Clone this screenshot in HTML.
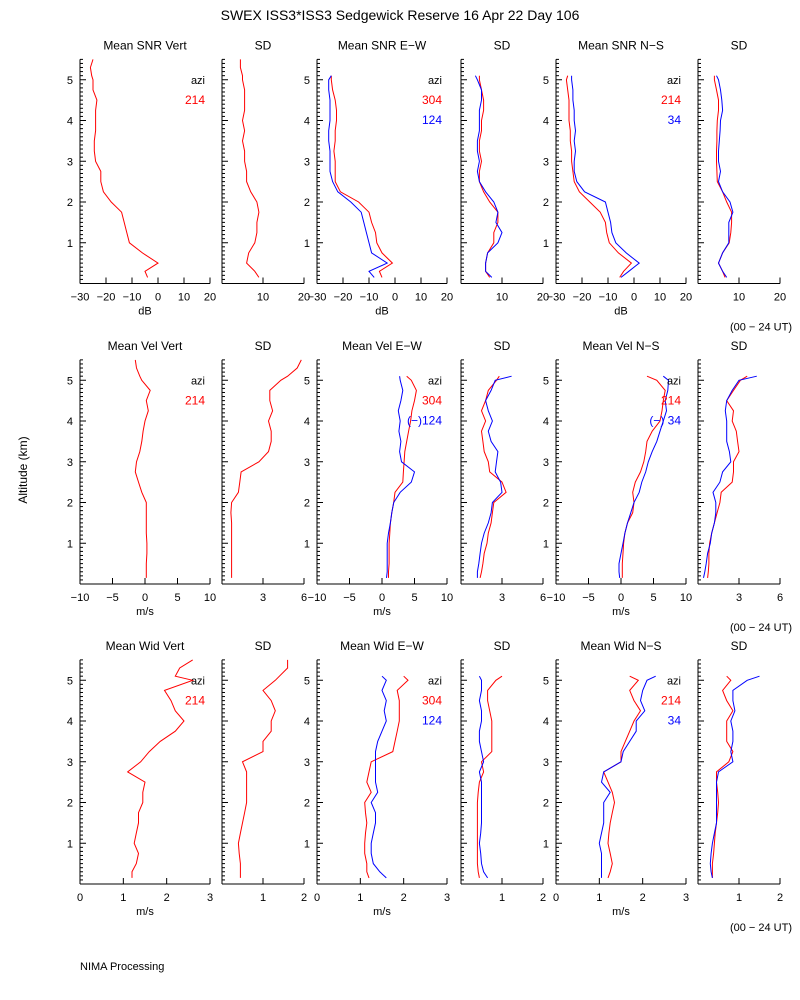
<!DOCTYPE html>
<html><head><meta charset="utf-8"><style>
body{margin:0;background:#fff;}
svg{display:block;font-family:"Liberation Sans","DejaVu Sans",sans-serif;}
</style></head><body>
<svg id="c" width="800" height="1000" viewBox="0 0 800 1000">
<rect width="800" height="1000" fill="#fff"/>
<text x="400" y="20" text-anchor="middle" font-size="14">SWEX ISS3*ISS3 Sedgewick Reserve  16 Apr 22 Day 106</text>
<text transform="translate(27,470) rotate(-90)" text-anchor="middle" font-size="12">Altitude (km)</text>
<text x="80" y="970" font-size="11">NIMA Processing</text>
</svg>
<script>
const alt=[0.15,0.3,0.5,0.75,1,1.25,1.5,1.75,2,2.25,2.5,2.75,3,3.25,3.5,3.75,4,4.25,4.5,4.75,5,5.1,5.3,5.5];
// Row 1 SNR
const snrVert=[-4,-5,0,-6,-11,-12,-13,-14,-18,-21,-22,-22,-24,-24.5,-24.5,-24,-24,-24,-23.5,-25,-25,-25.5,-26,-25];
const snrVertSd=[9,8,6,6.5,8,8.5,8.5,9,8.5,7,6,6,5.5,5.5,5,5.5,5,5.5,5.5,5.5,5,5,4.5,4.5];
const snrEw304=[-5,-6,-1,-5,-7,-7.5,-9,-10,-14,-21,-23,-23,-23,-23.5,-23,-23,-22.5,-22.5,-23,-24,-24.5,-24.5,null,null];
const snrEw124=[-8,-10,-3,-9,-10,-11,-12,-13,-17,-22,-24,-25,-25,-25,-25.5,-25.5,-25,-25,-25,-25.5,-25.5,-24.5,null,null];
const snrEwSd304=[7,6,6,6.5,8,8,9,9,7,5.5,4.5,4.5,5,4.5,4.5,5,5,5.5,5.5,5,4.5,4.5,null,null];
const snrEwSd124=[7.5,6,6,6.5,9,10,8.5,9,8,6,4.5,4,4.5,4,4,4.5,4.5,4.5,5,5,4,3.5,null,null];
const snrNs214=[-5.5,-4,-1,-6,-9.5,-10.5,-11,-13,-17,-21,-23,-23.5,-24,-24,-24.5,-24.5,-25,-25,-25,-25.5,-26,-25.5,null,null];
const snrNs34=[-5,-2,2,-3,-7,-8.5,-9,-10,-11,-19,-22,-23,-23,-22.5,-23,-22.5,-23,-23,-23.5,-23.5,-24,-24,null,null];
const snrNsSd214=[6.6,6,5,6,7.6,8,8.2,8.2,7,6,4.7,4.6,4.5,4.5,4.6,4.6,4.7,5,5,4.5,4,4,null,null];
const snrNsSd34=[7,6,5,6,7.5,7.5,7.5,8.5,7.8,6,5,5.5,5,5,5.2,5.4,5.5,6,5.8,5.5,5,4.5,null,null];
// Row 2 Velocity
const velVert=[0.2,0.2,0.2,0.3,0.3,0.2,0.2,0.2,0.2,-0.5,-1,-1.5,-1.3,-0.8,-0.5,-0.3,0,0.5,0.2,0.8,-0.5,-0.8,-1.3,-1.5];
const velVertSd=[0.7,0.7,0.7,0.7,0.7,0.7,0.7,0.65,0.7,1.2,1.3,1.4,2.7,3.4,3.6,3.6,3.4,3.7,3.5,3.5,4.3,4.8,5.5,5.8];
const velEw304=[1,1,1.1,1.1,1.1,1.2,1.3,1.5,1.8,2,3.2,3.3,3.4,3.5,3.8,4.1,4.4,4.6,5,5.3,4.5,3.8,null,null];
const velEw124=[0.7,0.8,0.8,0.8,0.8,1,1.3,1.5,1.8,2.8,4.5,5,3,2.7,2.9,2.6,2.8,2.5,2.9,3.2,2.8,2.7,null,null];
const velEwSd304=[1.4,1.5,1.6,1.7,1.9,2,2.2,2.3,2.4,3.3,3,2.1,2,1.7,1.6,1.5,1.8,1.5,1.8,2,2.6,2.8,null,null];
const velEwSd124=[1.2,1.2,1.3,1.4,1.5,1.7,2,2.2,2.3,3,2.9,2.5,2.6,2.7,2.2,2,2.3,2,1.8,2.2,2.5,3.7,null,null];
const velNs214=[0.2,0.2,0.2,0.3,0.4,0.6,1,1.8,2,1.8,2.2,3,3.5,3.8,4,4.8,6,6.3,6.5,6.8,5.5,4,null,null];
const velNs34=[-0.2,-0.3,-0.3,0,0.3,0.6,1,1.5,2,2.8,3.2,3.8,4.2,4.8,5.5,6,6.5,7,6.8,7.2,7.3,6.5,null,null];
const velNsSd214=[0.7,0.75,0.8,0.8,0.85,1,1.2,1.4,1.6,1.7,2.5,2.6,2.6,3,2.9,2.8,2.5,2.6,2.1,2.6,3.1,3.6,null,null];
const velNsSd34=[0.4,0.5,0.6,0.7,0.9,1,1.2,1.3,1.3,1.1,1.6,1.8,2.4,2.3,2.1,2.1,2.1,2,2.1,2.5,3,4.3,null,null];
// Row 3 Width
const widVert=[1.2,1.2,1.3,1.35,1.25,1.3,1.35,1.35,1.45,1.45,1.5,1.1,1.4,1.6,1.85,2.2,2.4,2.2,2.1,1.95,2.6,2.2,2.3,2.6];
const widVertSd=[0.45,0.45,0.45,0.42,0.4,0.45,0.5,0.55,0.6,0.6,0.6,0.6,0.5,1.0,1.0,1.2,1.2,1.3,1.2,1.0,1.3,1.4,1.6,1.6];
const widEw304=[1.2,1.15,1.15,1.1,1.1,1.12,1.15,1.12,1.1,1.25,1.15,1.2,1.25,1.75,1.8,1.85,1.9,1.9,1.9,1.85,2.1,2,null,null];
const widEw124=[1.6,1.45,1.3,1.25,1.25,1.3,1.35,1.35,1.25,1.4,1.35,1.35,1.35,1.35,1.4,1.5,1.6,1.55,1.6,1.5,1.6,1.5,null,null];
const widEwSd304=[0.45,0.42,0.4,0.4,0.4,0.4,0.4,0.4,0.4,0.42,0.45,0.55,0.5,0.75,0.75,0.75,0.75,0.7,0.65,0.65,0.85,1,null,null];
const widEwSd124=[0.65,0.55,0.5,0.48,0.45,0.48,0.5,0.5,0.5,0.5,0.5,0.45,0.55,0.5,0.45,0.45,0.5,0.5,0.45,0.5,0.5,0.45,null,null];
const widNs214=[1.2,1.25,1.3,1.25,1.2,1.22,1.25,1.3,1.35,1.3,1.2,1.1,1.5,1.5,1.6,1.7,1.8,1.95,1.8,1.7,1.9,1.7,null,null];
const widNs34=[1.05,1.05,1.05,1.05,1,1.05,1.1,1.1,1.1,1.25,1.05,1.1,1.5,1.55,1.7,1.85,1.85,2.05,1.95,2,2.1,2.3,null,null];
const widNsSd214=[0.35,0.35,0.35,0.38,0.4,0.42,0.45,0.48,0.5,0.48,0.45,0.45,0.75,0.85,0.7,0.7,0.7,0.85,0.7,0.6,0.8,0.7,null,null];
const widNsSd34=[0.35,0.32,0.3,0.32,0.35,0.4,0.45,0.45,0.45,0.45,0.45,0.5,0.85,0.8,0.85,0.85,0.8,0.9,0.85,0.85,1.2,1.5,null,null];

const snrTicks=[-30,-20,-10,0,10,20], velTicks=[-10,-5,0,5,10], widTicks=[0,1,2,3];
const snrSdTicks=[10,20], velSdTicks=[3,6], widSdTicks=[1,2];

const svg=document.getElementById('c');
const NS='http://www.w3.org/2000/svg';
function mk(tag,attrs,parent){const e=document.createElementNS(NS,tag);for(const k in attrs)e.setAttribute(k,attrs[k]);(parent||svg).appendChild(e);return e;}

const rows=[
 {base:283.5,pre:'SNR',unit:'dB',mr:[-30,20],mt:snrTicks,sr:[0,20],st:snrSdTicks,
  data:[[snrVert],[snrVertSd],[snrEw304,snrEw124],[snrEwSd304,snrEwSd124],[snrNs214,snrNs34],[snrNsSd214,snrNsSd34]],
  leg:[['214'],['304','124'],['214','34']]},
 {base:584,pre:'Vel',unit:'m/s',mr:[-10,10],mt:velTicks,sr:[0,6],st:velSdTicks,
  data:[[velVert],[velVertSd],[velEw304,velEw124],[velEwSd304,velEwSd124],[velNs214,velNs34],[velNsSd214,velNsSd34]],
  leg:[['214'],['304','(\u2212)124'],['214','(\u2212) 34']]},
 {base:884,pre:'Wid',unit:'m/s',mr:[0,3],mt:widTicks,sr:[0,2],st:widSdTicks,
  data:[[widVert],[widVertSd],[widEw304,widEw124],[widEwSd304,widEwSd124],[widNs214,widNs34],[widNsSd214,widNsSd34]],
  leg:[['214'],['304','124'],['214','34']]}
];
const cols=[[80,210],[222,304],[317,447],[461,543],[556,686],[698,780]];
const dirs=['Vert','E\u2212W','N\u2212S'];
const kpx=40.75;
const colors=['#f00','#00f'];

rows.forEach((r,ri)=>{
  const yOf=a=>r.base-a*kpx;
  cols.forEach((c,ci)=>{
    const isSd=ci%2===1, dir=Math.floor(ci/2);
    const g=mk('g',{});
    
    
    const range=isSd?r.sr:r.mr, ticks=isSd?r.st:r.mt;
    const xOf=v=>c[0]+(v-range[0])/(range[1]-range[0])*(c[1]-c[0]);
    const ttl=mk('text',{x:(c[0]+c[1])/2,y:r.base-234,'text-anchor':'middle','font-size':12},g);
    ttl.textContent=isSd?'SD':'Mean '+r.pre+' '+dirs[dir];
    
    
    const yTop=yOf(5.5);
    mk('line',{x1:c[0],y1:r.base,x2:c[0],y2:yTop,stroke:'#000','stroke-width':1},g);
    mk('line',{x1:c[0],y1:r.base,x2:c[1],y2:r.base,stroke:'#000','stroke-width':1},g);
    for(let i=1;i<=55;i++){const y=yOf(i/10);const L=i%10===0?6:3;mk('line',{x1:c[0],y1:y,x2:c[0]+L,y2:y,stroke:'#000','stroke-width':1},g);}
    if(!isSd){
      for(let k=1;k<=5;k++){const t=mk('text',{x:c[0]-7,y:yOf(k)+4,'text-anchor':'end','font-size':11},g);t.textContent=k;
        }
    }
    ticks.forEach(v=>{const x=xOf(v);mk('line',{x1:x,y1:r.base,x2:x,y2:r.base-6,stroke:'#000','stroke-width':1},g);
      const t=mk('text',{x:x,y:r.base+17,'text-anchor':'middle','font-size':11},g);t.textContent=(v<0?'\u2212'+(-v):v);
      });
    if(!isSd){const u=mk('text',{x:(c[0]+c[1])/2,y:r.base+31,'text-anchor':'middle','font-size':11},g);u.textContent=r.unit;
      }
    r.data[ci].forEach((ser,si)=>{
      let d='';let started=false;
      ser.forEach((v,i)=>{if(v===null)return;d+=(started?'L':'M')+xOf(v).toFixed(1)+' '+yOf(alt[i]).toFixed(1);started=true;});
      const p=mk('path',{d:d,fill:'none',stroke:colors[si],'stroke-width':1},g);
      
      
    });
    if(!isSd){
      const lx=c[1]-5;
      const a=mk('text',{x:lx,y:yOf(5)+4,'text-anchor':'end','font-size':11},g);a.textContent='azi';
      
      r.leg[dir].forEach((s,si)=>{const t=mk('text',{x:lx,y:yOf(5)+24+si*20,'text-anchor':'end','font-size':12,fill:colors[si]},g);t.textContent=s;
        });
    }
  });
  const ut=mk('text',{x:792,y:r.base+47,'text-anchor':'end','font-size':11});
  ut.textContent='(00 \u2212 24 UT)';
  
  
});
</script>
</body></html>
